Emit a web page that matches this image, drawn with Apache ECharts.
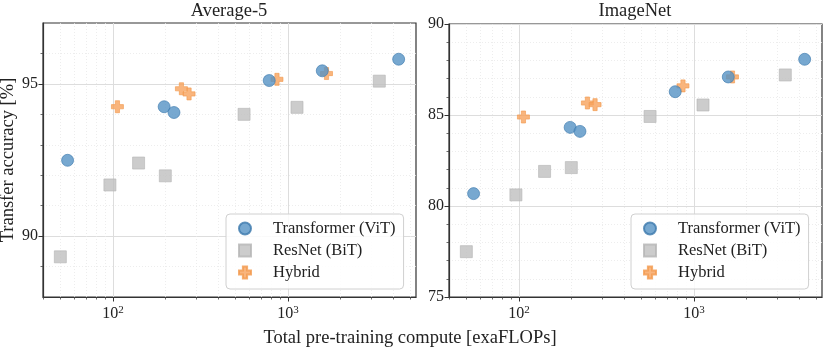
<!DOCTYPE html>
<html>
<head>
<meta charset="utf-8">
<script src="https://cdn.jsdelivr.net/npm/echarts@6/dist/echarts.min.js"></script>
<style>
  html, body { margin: 0; padding: 0; background: #fff; }
  #chart { width: 832px; height: 348px; }
</style>
</head>
<body>
<div id="chart"></div>
<script>
// Pre-training compute (exaFLOPs) per model family
const vitFlops = [55, 196, 223, 781, 1570, 4290];
const resFlops = [50, 96, 140, 199, 561, 1126, 3325];
const hybFlops = [106, 246, 272, 865, 1660];

// Average-5 transfer accuracy (%)
const vitAvg5 = [92.49, 94.25, 94.06, 95.11, 95.43, 95.81];
const resAvg5 = [89.32, 91.68, 92.40, 91.98, 94.00, 94.23, 95.09];
const hybAvg5 = [94.25, 94.84, 94.67, 95.15, 95.34];

// ImageNet transfer accuracy (%)
const vitImageNet = [80.68, 84.32, 84.10, 86.28, 87.09, 88.06];
const resImageNet = [77.49, 80.61, 81.90, 82.11, 84.92, 85.55, 87.20];
const hybImageNet = [84.89, 85.66, 85.57, 86.60, 87.09];

// Axis ticks
const xMajorTicks = [100, 1000];
const xMinorTicks = [40, 50, 60, 70, 80, 90, 200, 300, 400, 500, 600, 700, 800, 900, 2000, 3000, 4000, 5000];
const avgMajorTicks = [90, 95];
const avgMinorTicks = [89, 91, 92, 93, 94, 96];
const inMajorTicks = [75, 80, 85, 90];
const inMinorTicks = [76, 77, 78, 79, 81, 82, 83, 84, 86, 87, 88, 89];

const seriesNames = ['Transformer (ViT)', 'ResNet (BiT)', 'Hybrid'];

const FONT = '"Liberation Serif", "DejaVu Serif", serif';
const plusPath = 'path://M6.5,0H13.5V6.5H20V13.5H13.5V20H6.5V13.5H0V6.5H6.5Z';
const squarePath = 'path://M0,0H20V20H0Z';
const styles = {
  vit: { symbol: 'circle', size: 12, color: '#5592c4', border: '#3c79ad' },
  res: { symbol: 'rect', size: 12, color: '#bfbfbf', border: '#b5b5b5' },
  hyb: { symbol: plusPath, size: 12, color: '#f7a35c', border: '#f29a4e' }
};

const zip = (xs, ys) => xs.map((x, i) => [x, ys[i]]);

const grids = [
  { left: 43, top: 23, width: 373, height: 274 },
  { left: 449, top: 24, width: 373, height: 273 }
];

function xAxes(gridIndex) {
  const common = {
    type: 'log', logBase: 10, gridIndex, min: 39.8, max: 5390, position: 'bottom'
  };
  return [
    Object.assign({}, common, {
      axisLine: { show: true, lineStyle: { color: '#333', width: 1.2 } },
      axisTick: { show: true, length: 4.5, customValues: xMajorTicks, lineStyle: { color: '#333' } },
      axisLabel: {
        customValues: xMajorTicks, margin: 8,
        fontFamily: FONT, fontSize: 16, color: '#222',
        formatter: v => '10{sup|' + Math.round(Math.log10(v)) + '}',
        rich: { sup: { fontFamily: FONT, fontSize: 11, color: '#222', verticalAlign: 'top', padding: [0, 0, 7, 0] } }
      },
      splitLine: { show: true, lineStyle: { color: '#dddddd', width: 1 } }
    }),
    Object.assign({}, common, {
      axisLine: { show: false },
      axisTick: { show: true, length: 2.5, customValues: xMinorTicks, lineStyle: { color: '#444', width: 0.8 } },
      axisLabel: { show: false },
      splitLine: { show: true, lineStyle: { color: '#e8e8e8', width: 0.8, type: [1, 2] } }
    })
  ];
}

function yAxes(gridIndex, min, max, majors, minors, withName) {
  const common = { type: 'value', gridIndex, min, max, position: 'left' };
  const major = Object.assign({}, common, {
    axisLine: { show: true, lineStyle: { color: '#333', width: 1.2 } },
    axisTick: { show: true, length: 4.5, customValues: majors, lineStyle: { color: '#333' } },
    axisLabel: { customValues: majors, margin: 5, fontFamily: FONT, fontSize: 16, color: '#222' },
    splitLine: { show: true, lineStyle: { color: '#dddddd', width: 1 } }
  });
  if (withName) {
    Object.assign(major, {
      name: 'Transfer accuracy [%]', nameLocation: 'middle', nameGap: 24, nameRotate: 90,
      nameTextStyle: { fontFamily: FONT, fontSize: 18.5, color: '#222' }
    });
  }
  const minor = Object.assign({}, common, {
    axisLine: { show: false },
    axisTick: { show: true, length: 2.5, customValues: minors, lineStyle: { color: '#444', width: 0.8 } },
    axisLabel: { show: false },
    splitLine: { show: true, lineStyle: { color: '#e8e8e8', width: 0.8, type: [1, 2] } }
  });
  return [major, minor];
}

function scatter(name, st, data, axisIndex) {
  return {
    type: 'scatter', name, data,
    xAxisIndex: axisIndex, yAxisIndex: axisIndex,
    symbol: st.symbol, symbolSize: st.size,
    itemStyle: { color: st.color, borderColor: st.border, borderWidth: 0.8 },
    z: 5
  };
}

function legend(left) {
  return {
    left, top: 214, orient: 'vertical',
    backgroundColor: 'rgba(255,255,255,0.85)',
    borderColor: '#d0d0d0', borderWidth: 1, borderRadius: 4,
    padding: [6, 8, 8, 12],
    itemWidth: 20, itemHeight: 12, itemGap: 5,
    textStyle: { fontFamily: FONT, fontSize: 16.5, color: '#222', padding: [0, 0, 0, 13] },
    data: [
      { name: seriesNames[0], icon: 'circle' },
      { name: seriesNames[1], icon: squarePath },
      { name: seriesNames[2], icon: plusPath }
    ],
    selectedMode: false
  };
}

const option = {
  animation: false,
  backgroundColor: '#ffffff',
  title: [
    { text: 'Average-5', left: 229, top: 2, textAlign: 'center', padding: 0,
      textStyle: { fontFamily: FONT, fontSize: 18.5, fontWeight: 'normal', color: '#222' } },
    { text: 'ImageNet', left: 635, top: 2, textAlign: 'center', padding: 0,
      textStyle: { fontFamily: FONT, fontSize: 18.5, fontWeight: 'normal', color: '#222' } },
    { text: 'Total pre-training compute [exaFLOPs]', left: 410, top: 329, textAlign: 'center', padding: 0,
      textStyle: { fontFamily: FONT, fontSize: 18.5, fontWeight: 'normal', color: '#222' } }
  ],
  grid: grids.map(g => Object.assign({
    show: true, borderColor: '#333', borderWidth: 1.2, backgroundColor: '#fff',
    containLabel: false, outerBoundsMode: 'none'
  }, g)),
  xAxis: [].concat(xAxes(0), xAxes(1)),
  yAxis: [].concat(
    yAxes(0, 88, 97, avgMajorTicks, avgMinorTicks, true),
    yAxes(1, 75, 90, inMajorTicks, inMinorTicks, false)
  ),
  legend: [legend(226), legend(631)],
  series: [
    scatter(seriesNames[1], styles.res, zip(resFlops, resAvg5), 0),
    scatter(seriesNames[2], styles.hyb, zip(hybFlops, hybAvg5), 0),
    scatter(seriesNames[0], styles.vit, zip(vitFlops, vitAvg5), 0),
    scatter(seriesNames[1], styles.res, zip(resFlops, resImageNet), 2),
    scatter(seriesNames[2], styles.hyb, zip(hybFlops, hybImageNet), 2),
    scatter(seriesNames[0], styles.vit, zip(vitFlops, vitImageNet), 2)
  ]
};

const chart = echarts.init(document.getElementById('chart'), null, { renderer: 'canvas' });
chart.setOption(option);
</script>
</body>
</html>
